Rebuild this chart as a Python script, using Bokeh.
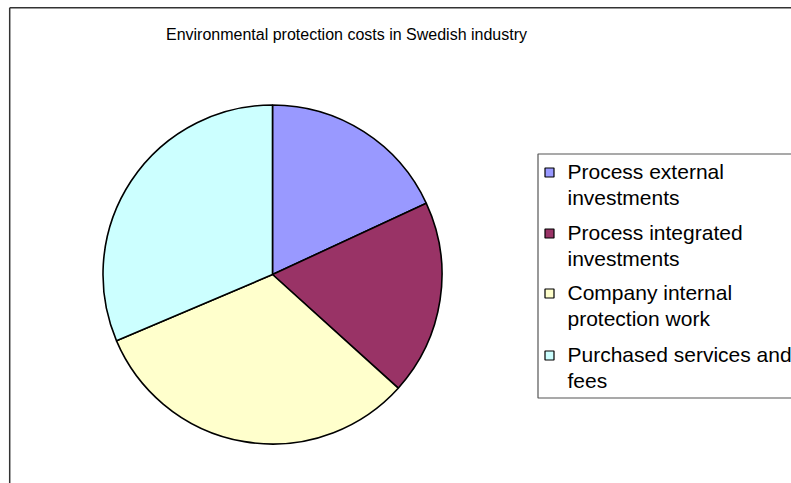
import numpy as np
from bokeh.plotting import figure
from bokeh.models import Range1d
from bokeh.embed import file_html
from bokeh.resources import INLINE
from bokeh.core.properties import value

# ---- data ----
title = "Environmental protection costs in Swedish industry"
categories = ["Process external investments", "Process integrated investments",
              "Company internal protection work", "Purchased services and fees"]
legend_lines = [["Process external", "investments"],
                ["Process integrated", "investments"],
                ["Company internal", "protection work"],
                ["Purchased services and", "fees"]]
values = [18.1, 18.6, 31.9, 31.4]
colors = ["#9999FF", "#993366", "#FFFFCC", "#CCFFFF"]

# ---- layout ----
W, H = 791, 483
FONT = "Liberation Sans"


def X(xr):
    return xr


def Y(yr):
    return H - yr


p = figure(width=W, height=H, x_range=Range1d(0, W), y_range=Range1d(0, H),
           output_backend="svg", toolbar_location=None, min_border=0,
           x_axis_location=None, y_axis_location=None)
p.grid.visible = False
p.outline_line_color = None
p.background_fill_color = "white"
p.border_fill_color = "white"

# chart area frame (left and top edges visible)
p.segment(x0=[X(9.2), X(9.2)], y0=[Y(7.2), Y(7.2)], x1=[X(9.2), X(800)], y1=[Y(490), Y(7.2)],
          line_color="#333333", line_width=1.5)

# title
p.text(x=[X(346)], y=[Y(34)], text=[title], text_align="center", text_baseline="middle",
       text_font=value(FONT), text_font_size="16px", text_color="#000000")

# pie
vals = np.array(values, dtype=float)
frac = vals / vals.sum()
cum = np.concatenate([[0.0], np.cumsum(frac)])
start = np.pi / 2 - 2 * np.pi * cum[:-1]
end = np.pi / 2 - 2 * np.pi * cum[1:]
cx, cy, r = X(272), Y(274), 169.5
p.wedge(x=[cx] * len(vals), y=[cy] * len(vals), radius=r,
        start_angle=list(start), end_angle=list(end), direction="clock",
        fill_color=colors, line_color="black", line_width=1.6)

# legend
p.quad(left=[X(537.5)], right=[X(900)], top=[Y(153.5)], bottom=[Y(397.5)],
       fill_color="white", line_color="#555555", line_width=1.2)
entry_y = [171, 232, 292, 354]
line_gap = 26
sq_x = [X(549)] * len(categories)
sq_y = [Y(e + 1) for e in entry_y]
p.rect(x=sq_x, y=sq_y, width=9, height=9, fill_color=colors, line_color="black", line_width=1.2)
tx, ty, tt = [], [], []
for e, lines in zip(entry_y, legend_lines):
    for k, ln in enumerate(lines):
        tx.append(X(567))
        ty.append(Y(e + k * line_gap))
        tt.append(ln)
p.text(x=tx, y=ty, text=tt, text_align="left", text_baseline="middle",
       text_font=value(FONT), text_font_size="21px", text_color="#000000")

open("out.html", "w").write(file_html(p, INLINE))
